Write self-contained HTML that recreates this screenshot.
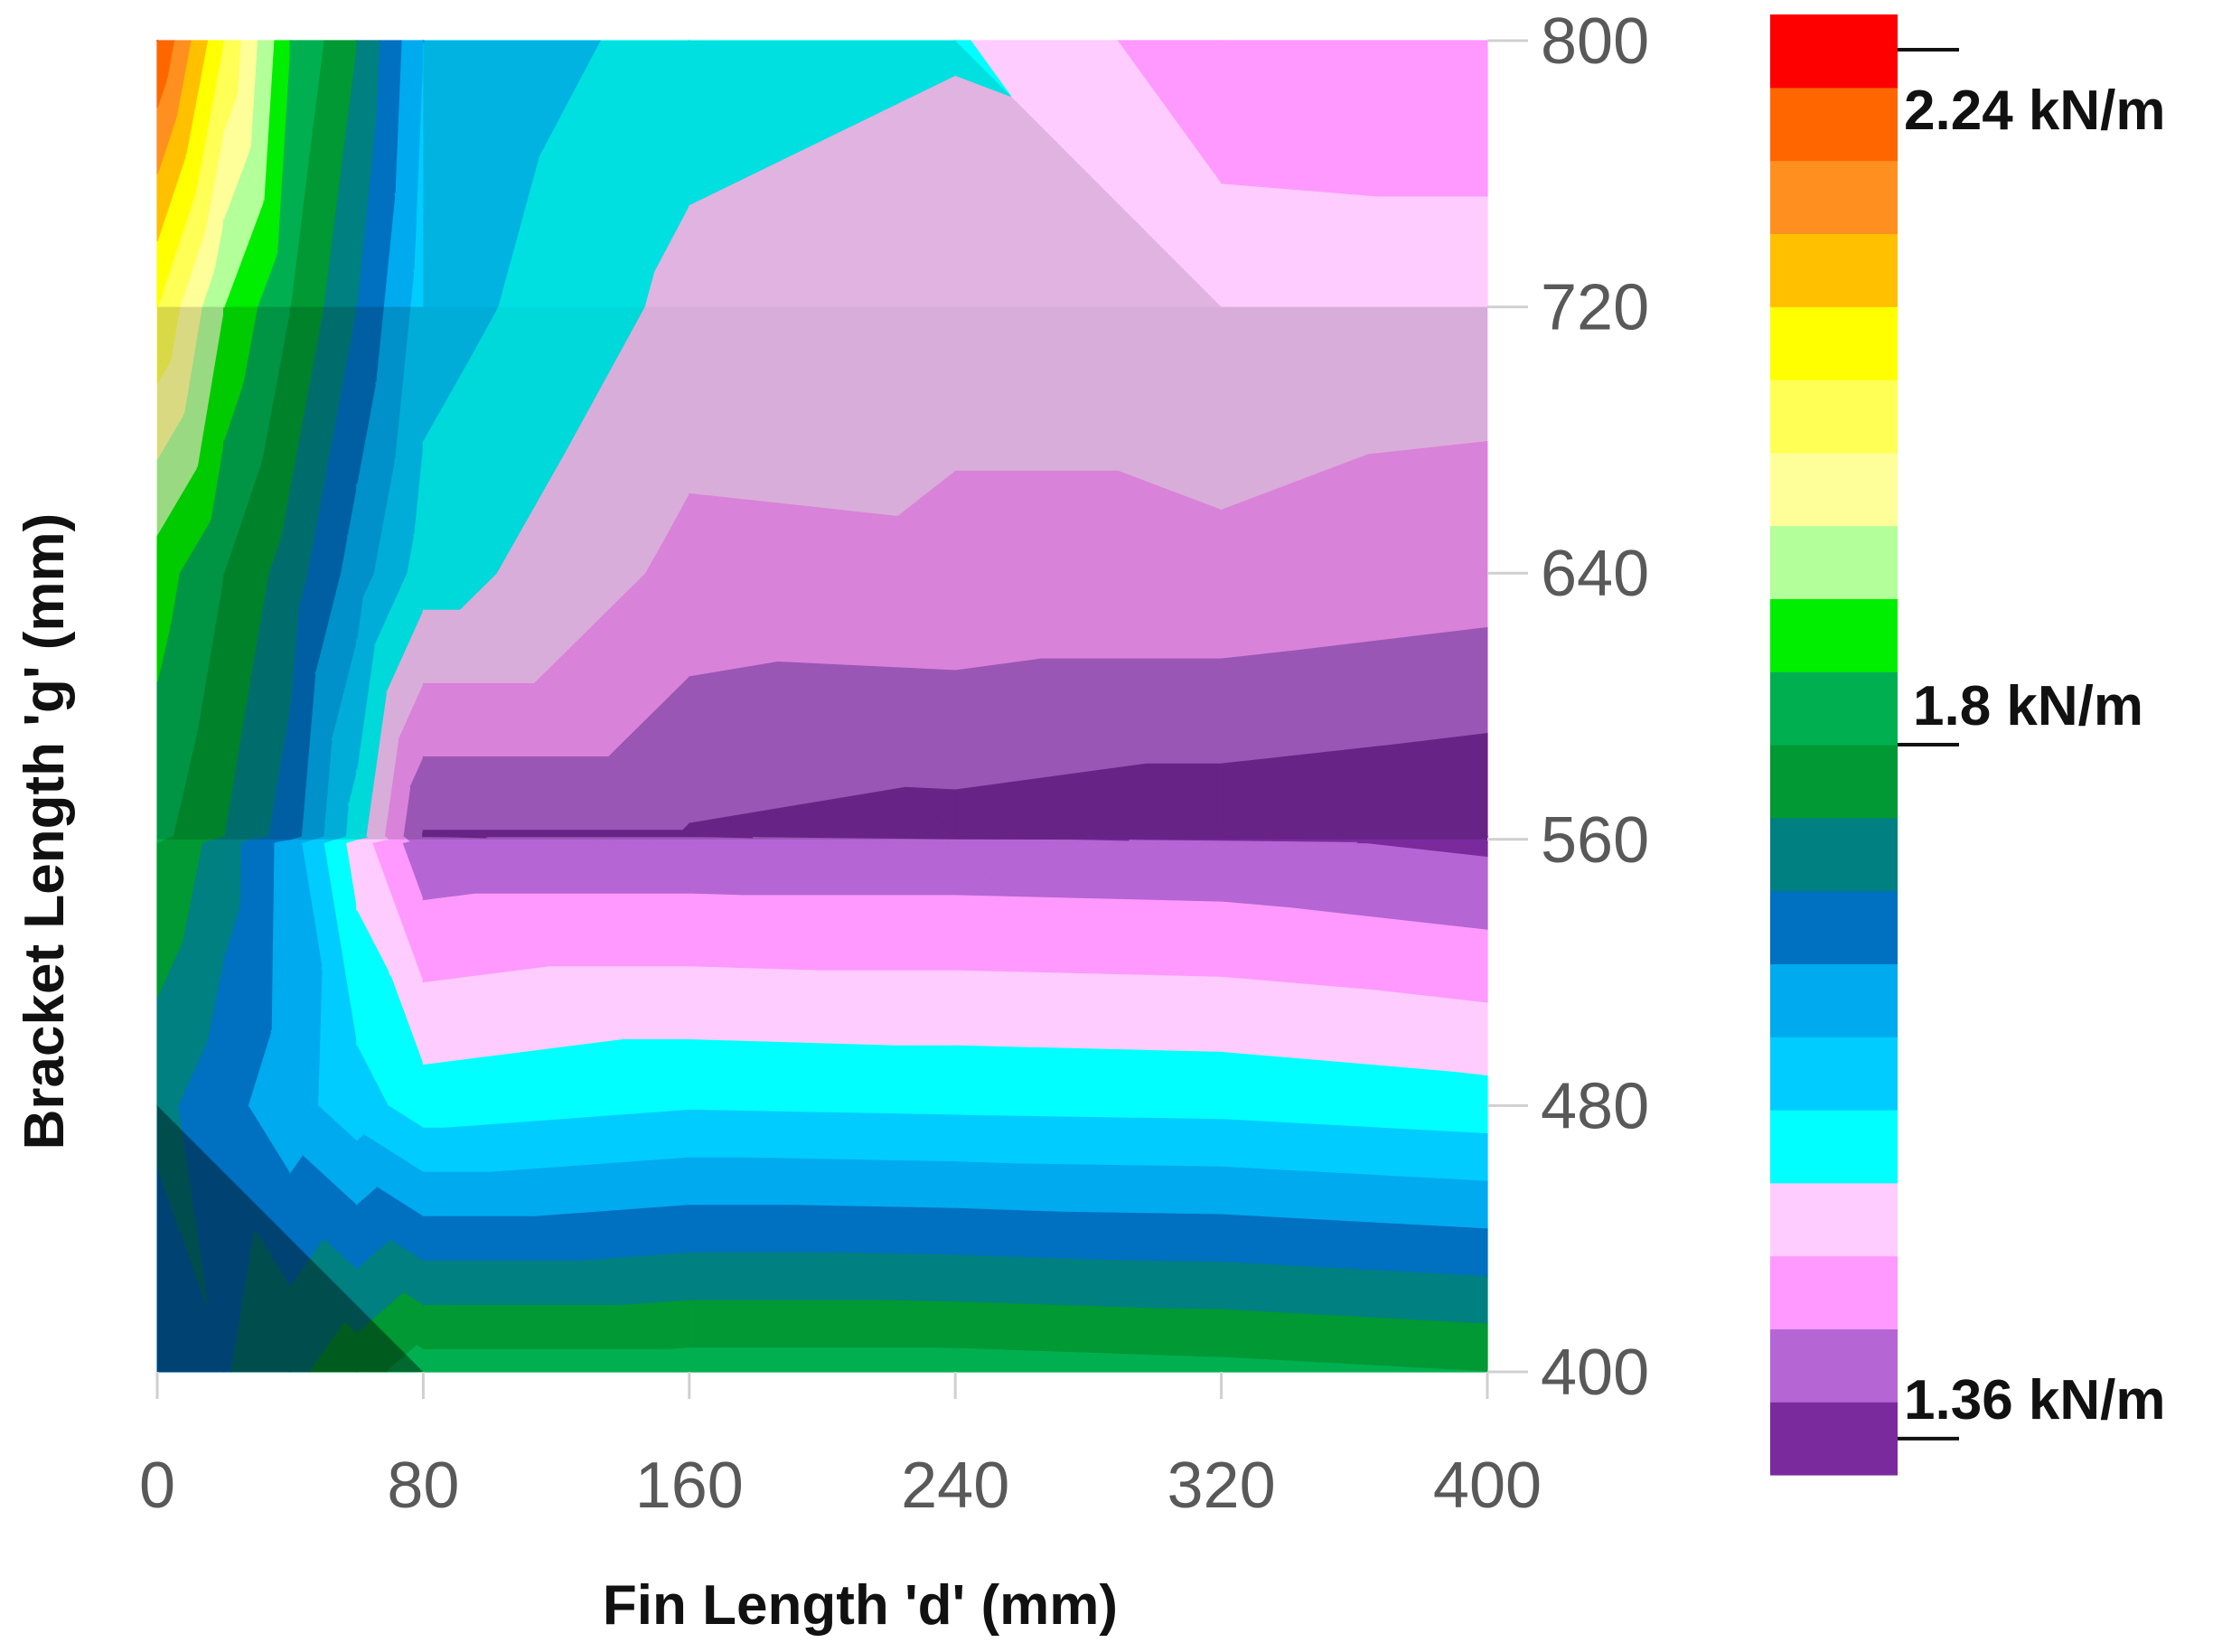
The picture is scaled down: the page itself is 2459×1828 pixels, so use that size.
<!DOCTYPE html>
<html><head><meta charset="utf-8">
<style>
html,body{margin:0;padding:0;background:#fff;}
svg{display:block;font-family:"Liberation Sans",sans-serif;}
</style></head>
<body>
<svg id="chart" width="2459" height="1828" viewBox="0 0 2459 1828" xmlns="http://www.w3.org/2000/svg">
<g id="plot"></g>
<g id="shade"></g>
<g id="axes"></g>
<g id="cbar"></g>
</svg>
<script>
// ---- data ----
const xNodes = [0, 20, 40, 60, 80, 160, 240, 320, 400];
const yNodes = [400, 480, 559, 561, 640, 720, 800];
const zRow400 = [1.661, 1.703, 1.742, 1.781, 1.823, 1.823, 1.823, 1.814, 1.800];
const zRow480 = [1.721, 1.677, 1.633, 1.589, 1.545, 1.564, 1.559, 1.555, 1.541];
const zRow559 = [1.800, 1.731, 1.638, 1.499, 1.397, 1.397, 1.397, 1.393, 1.374];
const zRow561 = [1.814, 1.754, 1.684, 1.545, 1.379, 1.379, 1.365, 1.351, 1.338];
const zRow640 = [1.869, 1.800, 1.731, 1.638, 1.545, 1.462, 1.467, 1.467, 1.453];
const zRow720 = [2.032, 1.893, 1.800, 1.707, 1.592, 1.508, 1.490, 1.504, 1.499];
const zRow800 = [2.217, 2.032, 1.846, 1.754, 1.615, 1.545, 1.527, 1.443, 1.443];
const xTicks = [0, 80, 160, 240, 320, 400];
const yTicks = [400, 480, 560, 640, 720, 800];
const cbLabels = ["2.24 kN/m", "1.8 kN/m", "1.36 kN/m"];
const cbLabelValues = [2.24, 1.80, 1.36];
const bandColors = ["#7b2a9e","#b565d4","#ff99ff","#ffccff","#00ffff","#00ccff","#00aaee","#0070c0","#008080","#009933","#00b050","#00ee00","#b3ff99","#ffff99","#ffff55","#ffff00","#ffc000","#ff9020","#ff6600","#ff0000"];
const levelStart = 1.337, levelStep = 0.0463;

const zGrid = [zRow400, zRow480, zRow559, zRow561, zRow640, zRow720, zRow800];
const NS = "http://www.w3.org/2000/svg";
const X0 = 174, X1 = 1646, Y0 = 1518, Y1 = 45;
const sx = v => X0 + v / 400 * (X1 - X0);
const sy = v => Y0 - (v - 400) / 400 * (Y0 - Y1);
const plot = document.getElementById('plot');
const shade = document.getElementById('shade');
const axes = document.getElementById('axes');
const cbar = document.getElementById('cbar');

function clip(poly, lvl, keepAbove) {
  const out = [];
  for (let i = 0; i < poly.length; i++) {
    const a = poly[i], b = poly[(i + 1) % poly.length];
    const ina = keepAbove ? a[2] >= lvl : a[2] <= lvl;
    const inb = keepAbove ? b[2] >= lvl : b[2] <= lvl;
    if (ina) out.push(a);
    if (ina !== inb) {
      const t = (lvl - a[2]) / (b[2] - a[2]);
      out.push([a[0] + t * (b[0] - a[0]), a[1] + t * (b[1] - a[1]), lvl]);
    }
  }
  return out;
}
const nB = bandColors.length;
for (let j = 0; j < yNodes.length - 1; j++) {
  for (let i = 0; i < xNodes.length - 1; i++) {
    const p = (ii, jj) => [sx(xNodes[ii]), sy(yNodes[jj]), zGrid[jj][ii]];
    const tris = [[p(i, j), p(i + 1, j), p(i, j + 1)], [p(i + 1, j), p(i + 1, j + 1), p(i, j + 1)]];
    tris.forEach(tri => {
      for (let b = 0; b < nB; b++) {
        let poly = tri;
        if (b > 0) poly = clip(poly, levelStart + b * levelStep, true);
        if (poly.length < 3) continue;
        if (b < nB - 1) poly = clip(poly, levelStart + (b + 1) * levelStep, false);
        if (poly.length < 3) continue;
        const el = document.createElementNS(NS, 'polygon');
        el.setAttribute('points', poly.map(q => q[0].toFixed(1) + ',' + q[1].toFixed(1)).join(' '));
        el.setAttribute('fill', bandColors[b]);
        el.setAttribute('stroke', bandColors[b]);
        el.setAttribute('stroke-width', '1.2');
        
        
        plot.appendChild(el);
      }
    });
  }
}
function mk(tag, attrs, parent, text) {
  const e = document.createElementNS(NS, tag);
  for (const k in attrs) e.setAttribute(k, attrs[k]);
  if (text !== undefined) e.textContent = text;
  parent.appendChild(e);
  return e;
}
const pts = arr => arr.map(q => sx(q[0]).toFixed(1) + ',' + sy(q[1]).toFixed(1)).join(' ');
// shading overlays seen in the reference
const s1 = mk('rect', {x: sx(0), y: sy(720), width: sx(400) - sx(0), height: sy(560) - sy(720), fill: '#000', opacity: 0.15}, shade);


const s2 = mk('polygon', {points: pts([[0, 480], [0, 400], [80, 400]]), fill: '#000', opacity: 0.4}, shade);


const s3 = mk('polygon', {points: pts([[80, 800], [240, 800], [240, 720], [80, 720]]), fill: '#000', opacity: 0.12}, shade);


const s4 = mk('polygon', {points: pts([[240, 800], [240, 720], [320, 720]]), fill: '#000', opacity: 0.12}, shade);


// y ticks (right side)
yTicks.forEach(v => {
  const l = mk('line', {x1: X1, x2: X1 + 45, y1: sy(v), y2: sy(v), stroke: '#d0d0d0', 'stroke-width': 3}, axes);
  
  
  const t = mk('text', {x: 1705, y: sy(v) + 25, 'font-size': 72, fill: '#595959'}, axes, String(v));
  
  
});
xTicks.forEach(v => {
  const l = mk('line', {x1: sx(v), x2: sx(v), y1: Y0, y2: Y0 + 30, stroke: '#d0d0d0', 'stroke-width': 3}, axes);
  
  
  const t = mk('text', {x: sx(v), y: 1668, 'font-size': 72, fill: '#595959', 'text-anchor': 'middle'}, axes, String(v));
  
  
});
const xt = mk('text', {x: 952, y: 1797, 'font-size': 62, 'font-weight': 'bold', fill: '#111', 'text-anchor': 'middle'}, axes, "Fin Length 'd' (mm)");


const yt = mk('text', {x: 0, y: 0, 'font-size': 62, 'font-weight': 'bold', fill: '#111', 'text-anchor': 'middle', transform: 'translate(70,920) rotate(-90)'}, axes, "Bracket Length 'g' (mm)");


// colorbar
const CB_X = 1959, CB_W = 141, CB_TOP = 16, CB_BOT = 1632;
const bh = (CB_BOT - CB_TOP) / nB;
bandColors.forEach((c, b) => {
  const r = mk('rect', {x: CB_X, y: CB_BOT - (b + 1) * bh, width: CB_W, height: bh + 0.6, fill: c}, cbar);
  
  
});
const cbY = v => CB_BOT - ((v - levelStart) / levelStep) * bh;
cbLabelValues.forEach((v, k) => {
  const y = k === 0 ? 55 : cbY(v);
  const l = mk('line', {x1: CB_X + CB_W, x2: 2168, y1: y, y2: y, stroke: '#111', 'stroke-width': 4}, cbar);
  
  
  const ty = k === 0 ? y + 88 : y - 22;
  const t = mk('text', {x: k === 1 ? 2117 : 2107, y: ty, 'font-size': 62, 'font-weight': 'bold', fill: '#111'}, cbar, cbLabels[k]);
  
  
});
</script>
</body></html>
